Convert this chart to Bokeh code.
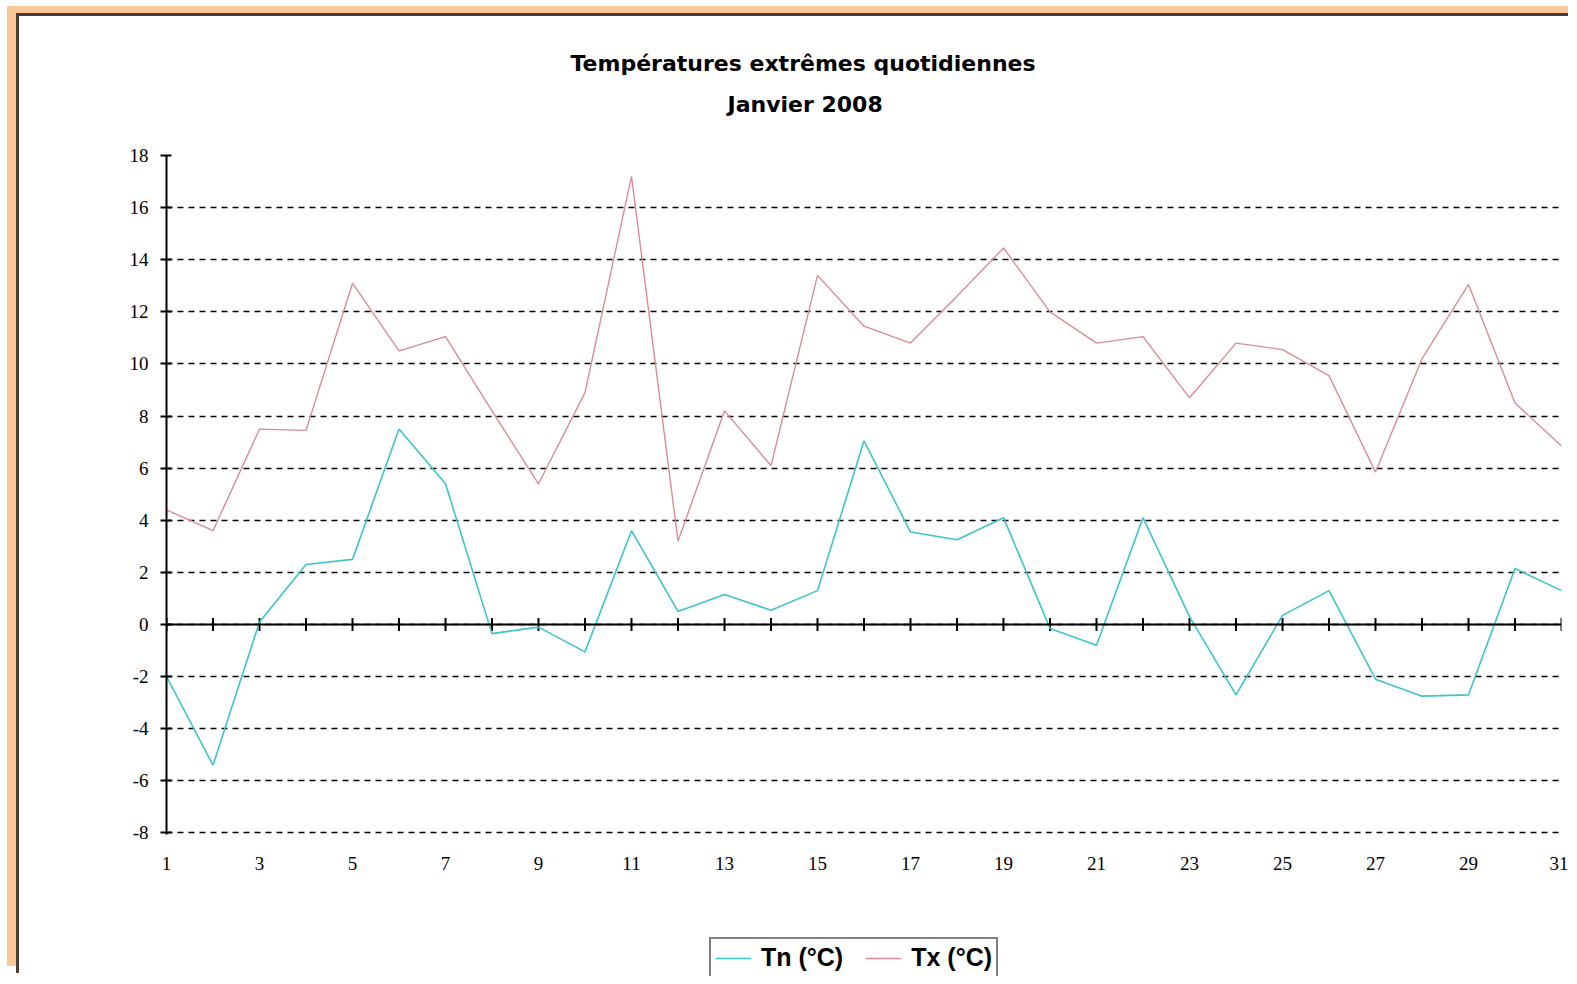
from bokeh.plotting import figure
from bokeh.models import Range1d, FixedTicker, Span, Title, Legend, LegendItem, Spacer
from bokeh.layouts import column, row
from bokeh.embed import file_html
from bokeh.resources import INLINE

# ---- data ----
days = list(range(1, 32))
tn = [-2.0, -5.4, 0.1, 2.3, 2.5, 7.5, 5.4, -0.35, -0.1, -1.05, 3.6, 0.5, 1.15, 0.55, 1.3, 7.05,
      3.55, 3.25, 4.1, -0.15, -0.8, 4.1, 0.3, -2.7, 0.35, 1.3, -2.1, -2.75, -2.7, 2.15, 1.3]
tx = [4.4, 3.6, 7.5, 7.45, 13.1, 10.5, 11.05, 8.2, 5.4, 8.9, 17.2, 3.2, 8.2, 6.1, 13.4, 11.45,
      10.8, 12.6, 14.45, 12.0, 10.8, 11.05, 8.7, 10.8, 10.55, 9.55, 5.85, 10.2, 13.05, 8.5, 6.85]
y_ticks = list(range(-8, 19, 2))
grid_ticks = list(range(-8, 17, 2))
x_label_ticks = list(range(1, 32, 2))
title_line1 = "Températures extrêmes quotidiennes"
title_line2 = "Janvier 2008"
series_names = ["Tn (°C)", "Tx (°C)"]

TN_COLOR = "#3cc4cc"
TX_COLOR = "#d98c94"
PEACH = "#f9c896"
DARK = "#4a3b33"

p = figure(width=1549, height=920, x_range=Range1d(1, 31), y_range=Range1d(-8.06, 18),
           output_backend="svg", toolbar_location=None, title=None,
           min_border_left=147, min_border_right=7, min_border_top=139, min_border_bottom=102)
p.background_fill_color = "white"
p.border_fill_color = "white"
p.outline_line_color = None

# grid
p.xgrid.visible = False
p.ygrid.ticker = FixedTicker(ticks=grid_ticks)
p.ygrid.grid_line_color = "black"
p.ygrid.grid_line_dash = "6 5"
p.ygrid.grid_line_width = 1.5

# y axis
p.yaxis.ticker = FixedTicker(ticks=y_ticks)
p.yaxis.major_label_overrides = {v: str(v) for v in y_ticks}
p.yaxis.axis_line_color = "black"
p.yaxis.axis_line_width = 2
p.yaxis.major_tick_line_color = "black"
p.yaxis.major_tick_line_width = 2
p.yaxis.major_tick_in = 5
p.yaxis.major_tick_out = 6
p.yaxis.minor_tick_line_color = None
p.yaxis.major_label_standoff = 12
p.yaxis.major_label_text_font = "Liberation Serif"
p.yaxis.major_label_text_font_size = "19px"
p.yaxis.major_label_text_color = "black"

# x axis (labels only, at bottom)
p.xaxis.ticker = FixedTicker(ticks=x_label_ticks)
p.xaxis.axis_line_color = None
p.xaxis.major_tick_line_color = None
p.xaxis.minor_tick_line_color = None
p.xaxis.major_tick_out = 0
p.xaxis.major_tick_in = 0
p.xaxis.major_label_standoff = 22
p.xaxis.major_label_text_font = "Liberation Serif"
p.xaxis.major_label_text_font_size = "19px"
p.xaxis.major_label_text_color = "black"

# zero axis line with day ticks
p.add_layout(Span(location=0, dimension="width", line_color="black", line_width=2))
p.segment(x0=days, y0=[-0.25] * len(days), x1=days, y1=[0.25] * len(days),
          line_color="black", line_width=2)

p.line(days, tn, line_color=TN_COLOR, line_width=1.6)
p.line(days, tx, line_color=TX_COLOR, line_width=1.4)

# titles (first added sits closest to the frame); a blank one keeps a gap above the frame
p.add_layout(Title(text=" ", align="left", standoff=0,
                   text_font="DejaVu Sans", text_font_size="22px"), "above")
p.add_layout(Title(text=title_line2, align="left", offset=561, standoff=24,
                   text_font="DejaVu Sans", text_font_style="bold",
                   text_font_size="22px", text_color="black"), "above")
p.add_layout(Title(text=title_line1, align="left", offset=404, standoff=4,
                   text_font="DejaVu Sans", text_font_style="bold",
                   text_font_size="22px", text_color="black"), "above")

# legend in its own small figure below the chart
lf = figure(width=310, height=40, x_range=Range1d(-20, -19), y_range=Range1d(0, 1),
            x_axis_type=None, y_axis_type=None, output_backend="svg",
            toolbar_location=None, min_border=0)
lf.outline_line_color = None
lf.background_fill_color = "white"
lf.border_fill_color = "white"
lf.grid.visible = False
l_tn = lf.line(days, tn, line_color=TN_COLOR, line_width=1.6)
l_tx = lf.line(days, tx, line_color=TX_COLOR, line_width=1.4)
legend = Legend(items=[LegendItem(label=series_names[0], renderers=[l_tn]),
                       LegendItem(label=series_names[1], renderers=[l_tx])],
                location="top_left", orientation="horizontal",
                border_line_color="black", border_line_width=2,
                label_text_font="Liberation Sans", label_text_font_style="bold",
                label_text_font_size="25px", label_text_color="black",
                glyph_width=36, label_standoff=10, spacing=22, padding=4, margin=1,
                background_fill_color="white")
lf.add_layout(legend)

inner = column(p, row(Spacer(width=689, height=40), lf), spacing=0)
inner.styles = {"background-color": "white",
                "box-shadow": (f"-3px -3px 0 0 {DARK}, 0 -3px 0 0 {DARK}, "
                               f"-12px -10px 0 0 {PEACH}, 0 -10px 0 0 {PEACH}")}
root = column(Spacer(width=1568, height=16), row(Spacer(width=19, height=960), inner, spacing=0),
              spacing=0)

open("out.html", "w").write(file_html(root, INLINE))
